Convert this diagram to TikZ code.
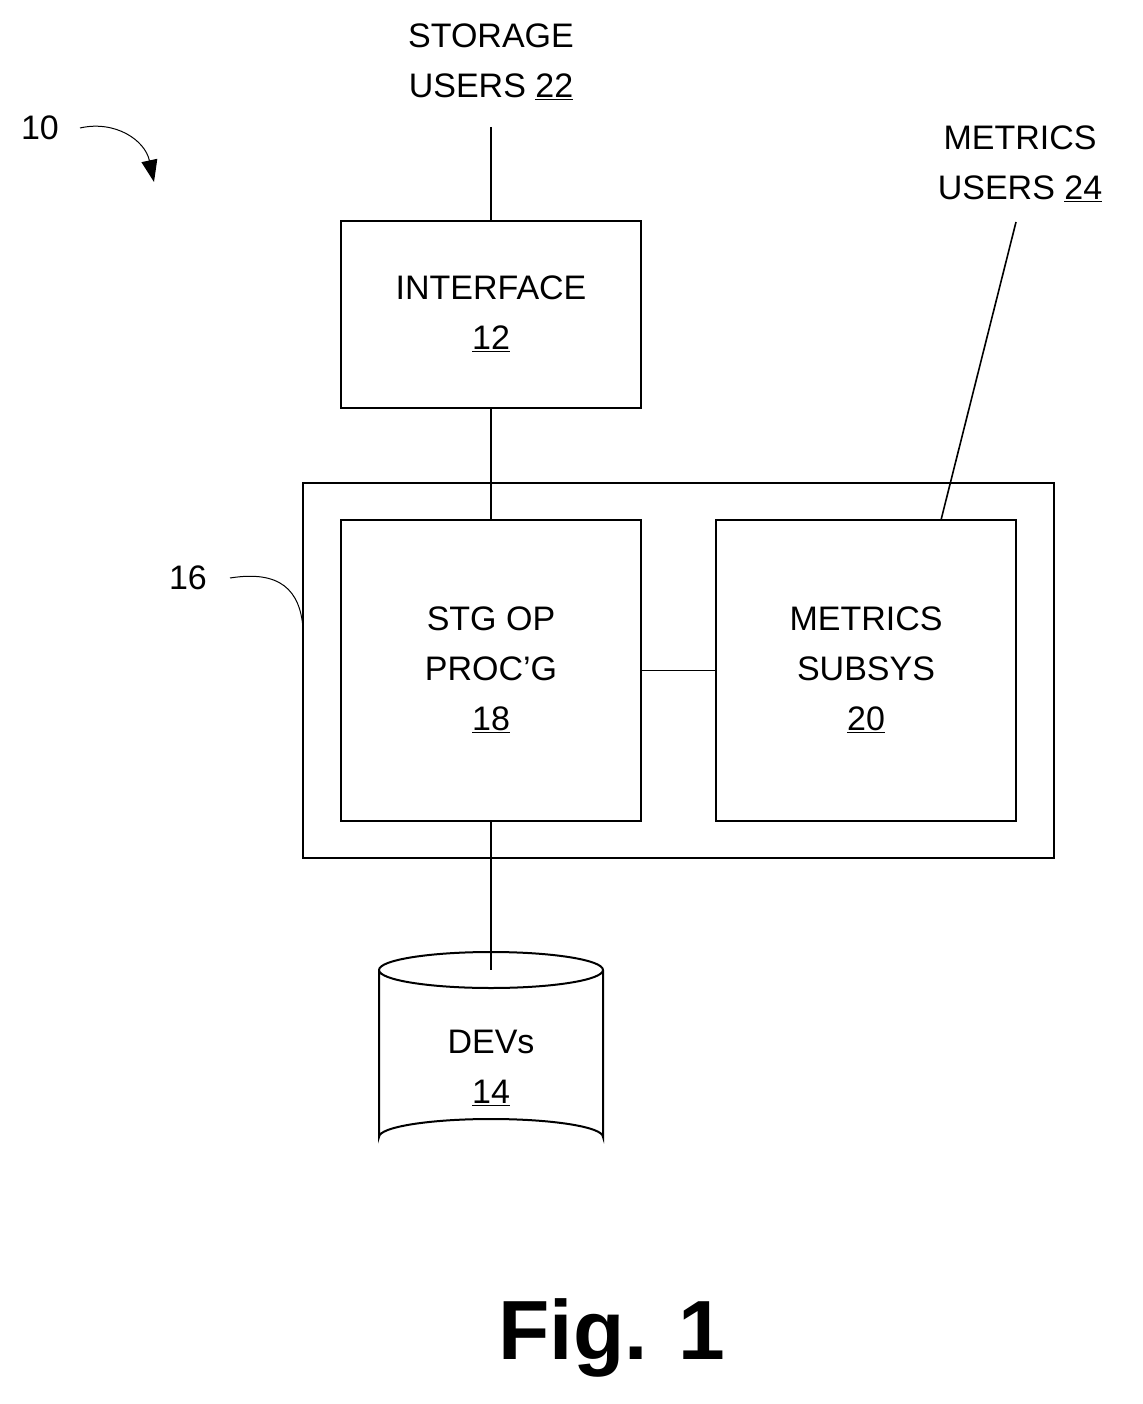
\documentclass[tikz,border=0pt]{standalone}
\usepackage{fontspec}
\setmainfont{Liberation Sans}
\usetikzlibrary{shapes.geometric,arrows.meta}
\begin{document}
\begin{tikzpicture}[x=1pt,y=-1pt,
  lbl/.style={font=\fontsize{34}{50}\selectfont,align=center,inner sep=0},
  box/.style={draw,line width=2pt},
  ln/.style={line width=1.6pt}]
\useasboundingbox (0,0) rectangle (1142,1404);
\node[lbl] (su) at (491,62) {STORAGE\\USERS \underline{22}};
\node[lbl] (mu) at (1020,164) {METRICS\\USERS \underline{24}};
\node[box,minimum width=300pt,minimum height=187pt] (if) at (491,314.5) {};
\node[lbl] at (491,314) {INTERFACE\\\underline{12}};
\node[box,minimum width=751pt,minimum height=375pt] (sys) at (678.5,670.5) {};
\node[box,minimum width=300pt,minimum height=301pt] (stg) at (491,670.5) {};
\node[lbl] at (491,670) {STG OP\\PROC'G\\\underline{18}};
\node[box,minimum width=300pt,minimum height=301pt] (met) at (866,670.5) {};
\node[lbl] at (866,670) {METRICS\\SUBSYS\\\underline{20}};
\coordinate (sutop) at (491,127);
\coordinate (mut) at (1016,222);
\coordinate (metc) at (941,520);
\draw[ln] (sutop) -- (if.north);
\draw[ln] (if.south) -- (stg.north);
\draw[ln] (stg.east) -- (met.west);
\draw[ln] (mut) -- (metc);
% cylinder
\coordinate (cyl) at (491,970);
\draw[ln] (stg.south) -- (cyl);
\draw[line width=2pt] (379,970) arc[start angle=180,end angle=360,x radius=112,y radius=18]
  (603,970) arc[start angle=0,end angle=180,x radius=112,y radius=18]
  (379,970) -- (379,1137) arc[start angle=180,end angle=360,x radius=112,y radius=18] -- (603,970);
\node[lbl] (dev) at (491,1068) {DEVs\\\underline{14}};
% labels
\node[lbl] (l10) at (40,128) {10};
\coordinate (a10) at (80,128);
\coordinate (t10) at (154,182);
\draw[line width=1pt,-{Triangle[length=22pt,width=16pt]}] (a10) .. controls (115,120) and (145,140) .. (t10);
\node[lbl] (l16) at (188,578) {16};
\coordinate (a16) at (230,578);
\coordinate (t16) at (303,628);
\draw[line width=1pt] (a16) .. controls (280,570) and (300,590) .. (t16);
\node[font=\fontsize{84}{90}\selectfont\bfseries,inner sep=0] (fig) at (612,1338) {Fig. 1};
\end{tikzpicture}
\end{document}
